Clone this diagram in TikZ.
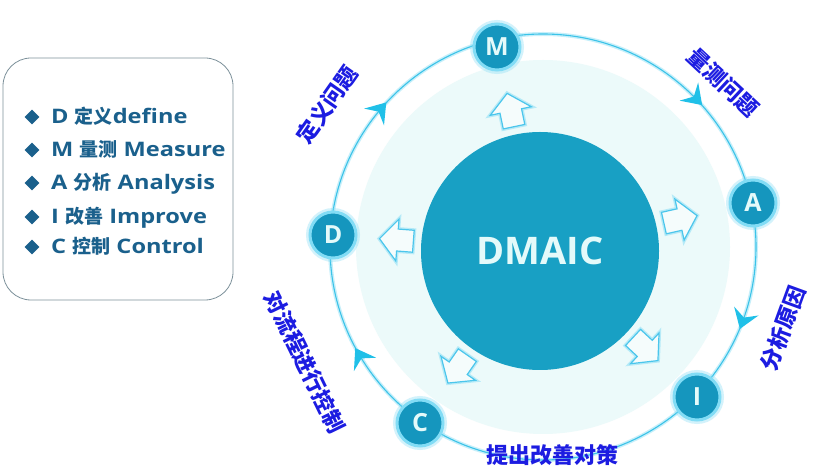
\documentclass[tikz,border=0pt]{standalone}
\usepackage{fontspec}
\setmainfont{Open Sans}
\newfontfamily\cjk{Noto Sans CJK SC}
\newfontfamily\boxlat{Open Sans}[FakeStretch=1.18]
\usetikzlibrary{calc,shapes.geometric}
\definecolor{nodeteal}{RGB}{21,150,190}
\definecolor{coreteal}{RGB}{24,160,196}
\definecolor{letter}{RGB}{228,250,250}
\definecolor{ringc}{RGB}{60,195,232}
\definecolor{glowc}{RGB}{130,220,245}
\definecolor{pale}{RGB}{236,250,250}
\definecolor{chevc}{RGB}{32,192,232}
\definecolor{harrowc}{RGB}{75,198,236}
\definecolor{lblblue}{RGB}{28,28,225}
\definecolor{boxtext}{RGB}{26,96,140}
\definecolor{boxborder}{RGB}{125,145,155}
\tikzset{
  ring/.style={draw=ringc, line width=1.1pt,
    preaction={draw=glowc, line width=4pt, opacity=0.45}},
  stage/.style={circle, fill=nodeteal, minimum size=46, inner sep=0,
    draw=glowc, line width=3pt,
    preaction={draw=glowc, line width=8pt, opacity=0.35},
    text=letter, font=\fontsize{25}{26}\selectfont\bfseries},
  core/.style={circle, fill=coreteal, minimum size=238, inner sep=0,
    text=letter, font=\fontsize{38}{40}\selectfont\bfseries},
  lbl/.style={text=lblblue, inner sep=0, font=\cjk\fontsize{22}{24}\selectfont\bfseries},
  item/.style={anchor=base west, inner sep=0, text=boxtext,
    font=\boxlat\fontsize{20}{22}\selectfont\bfseries},
  dia/.style={diamond, aspect=1, fill=boxtext, minimum width=15, minimum height=15, inner sep=0},
  harrow/.style={draw=harrowc, line width=1.2pt, fill=white!50!pale, line join=miter,
    preaction={draw=glowc, line width=4pt, opacity=0.5}},
  chev/.pic={\fill[chevc] (10,0) -- (-9,13) -- (-2,0) -- (-9,-13) -- cycle;},
  hollow/.pic={\draw[harrow] (-16,-11) -- (0,-11) -- (0,-21) -- (18,0) -- (0,21) -- (0,11) -- (-16,11) -- cycle;}
}
\newcommand{\zh}[1]{{\cjk\fontsize{19}{20}\selectfont #1}}
\begin{document}
\begin{tikzpicture}[x=1pt,y=1pt]
\useasboundingbox (0,0) rectangle (827,468);
\fill[white] (0,0) rectangle (827,468);
\coordinate (rc) at (543,221);
\coordinate (cc) at (540,217);
\fill[pale] (rc) circle (187);
\draw[ring] (rc) circle (213);
% direction chevrons on the ring
\foreach \a/\r in {140/50, 44.4/-45.6, -19.9/-109.9, -149/121}
  \pic[rotate=\r] at ($(rc)+(\a:213)$) {chev};
% hollow arrows
\foreach \a in {101.8,12.7,-42.9,-124.9,175.6}
  \pic[rotate=\a] at ($(cc)+(\a:143)$) {hollow};
% centre
\node[core] (dmaic) at (cc) {DMAIC};
% stages
\node[stage] (M) at (497,421) {M};
\node[stage] (A) at (753,265) {A};
\node[stage] (I) at (697,71) {I};
\node[stage] (C) at (420,45) {C};
\node[stage] (D) at (333,233) {D};
% labels
\node[lbl, rotate=55] (l1) at (327,363) {定义问题};
\node[lbl, rotate=-43] (l2) at (723,386) {量测问题};
\node[lbl, rotate=70] (l3) at (783,140) {分析原因};
\node[lbl] (l4) at (552,13) {提出改善对策};
\node[lbl, rotate=-64] (l5) at (305,106) {对流程进行控制};
% legend box
\node[draw=boxborder, line width=0.8pt, rounded corners=28, minimum width=230,
  minimum height=242, inner sep=0] (box) at (118,289) {};
\node[dia] (d1) at (32,351) {};
\node[item] (t1) at (51,344) {D \zh{定义}define};
\node[dia] (d2) at (32,318) {};
\node[item] (t2) at (51,311) {M \zh{量测} Measure};
\node[dia] (d3) at (32,285) {};
\node[item] (t3) at (51,278) {A \zh{分析} Analysis};
\node[dia] (d4) at (32,251) {};
\node[item] (t4) at (51,244) {I \zh{改善} Improve};
\node[dia] (d5) at (32,221) {};
\node[item] (t5) at (51,214) {C \zh{控制} Control};
\end{tikzpicture}
\end{document}
